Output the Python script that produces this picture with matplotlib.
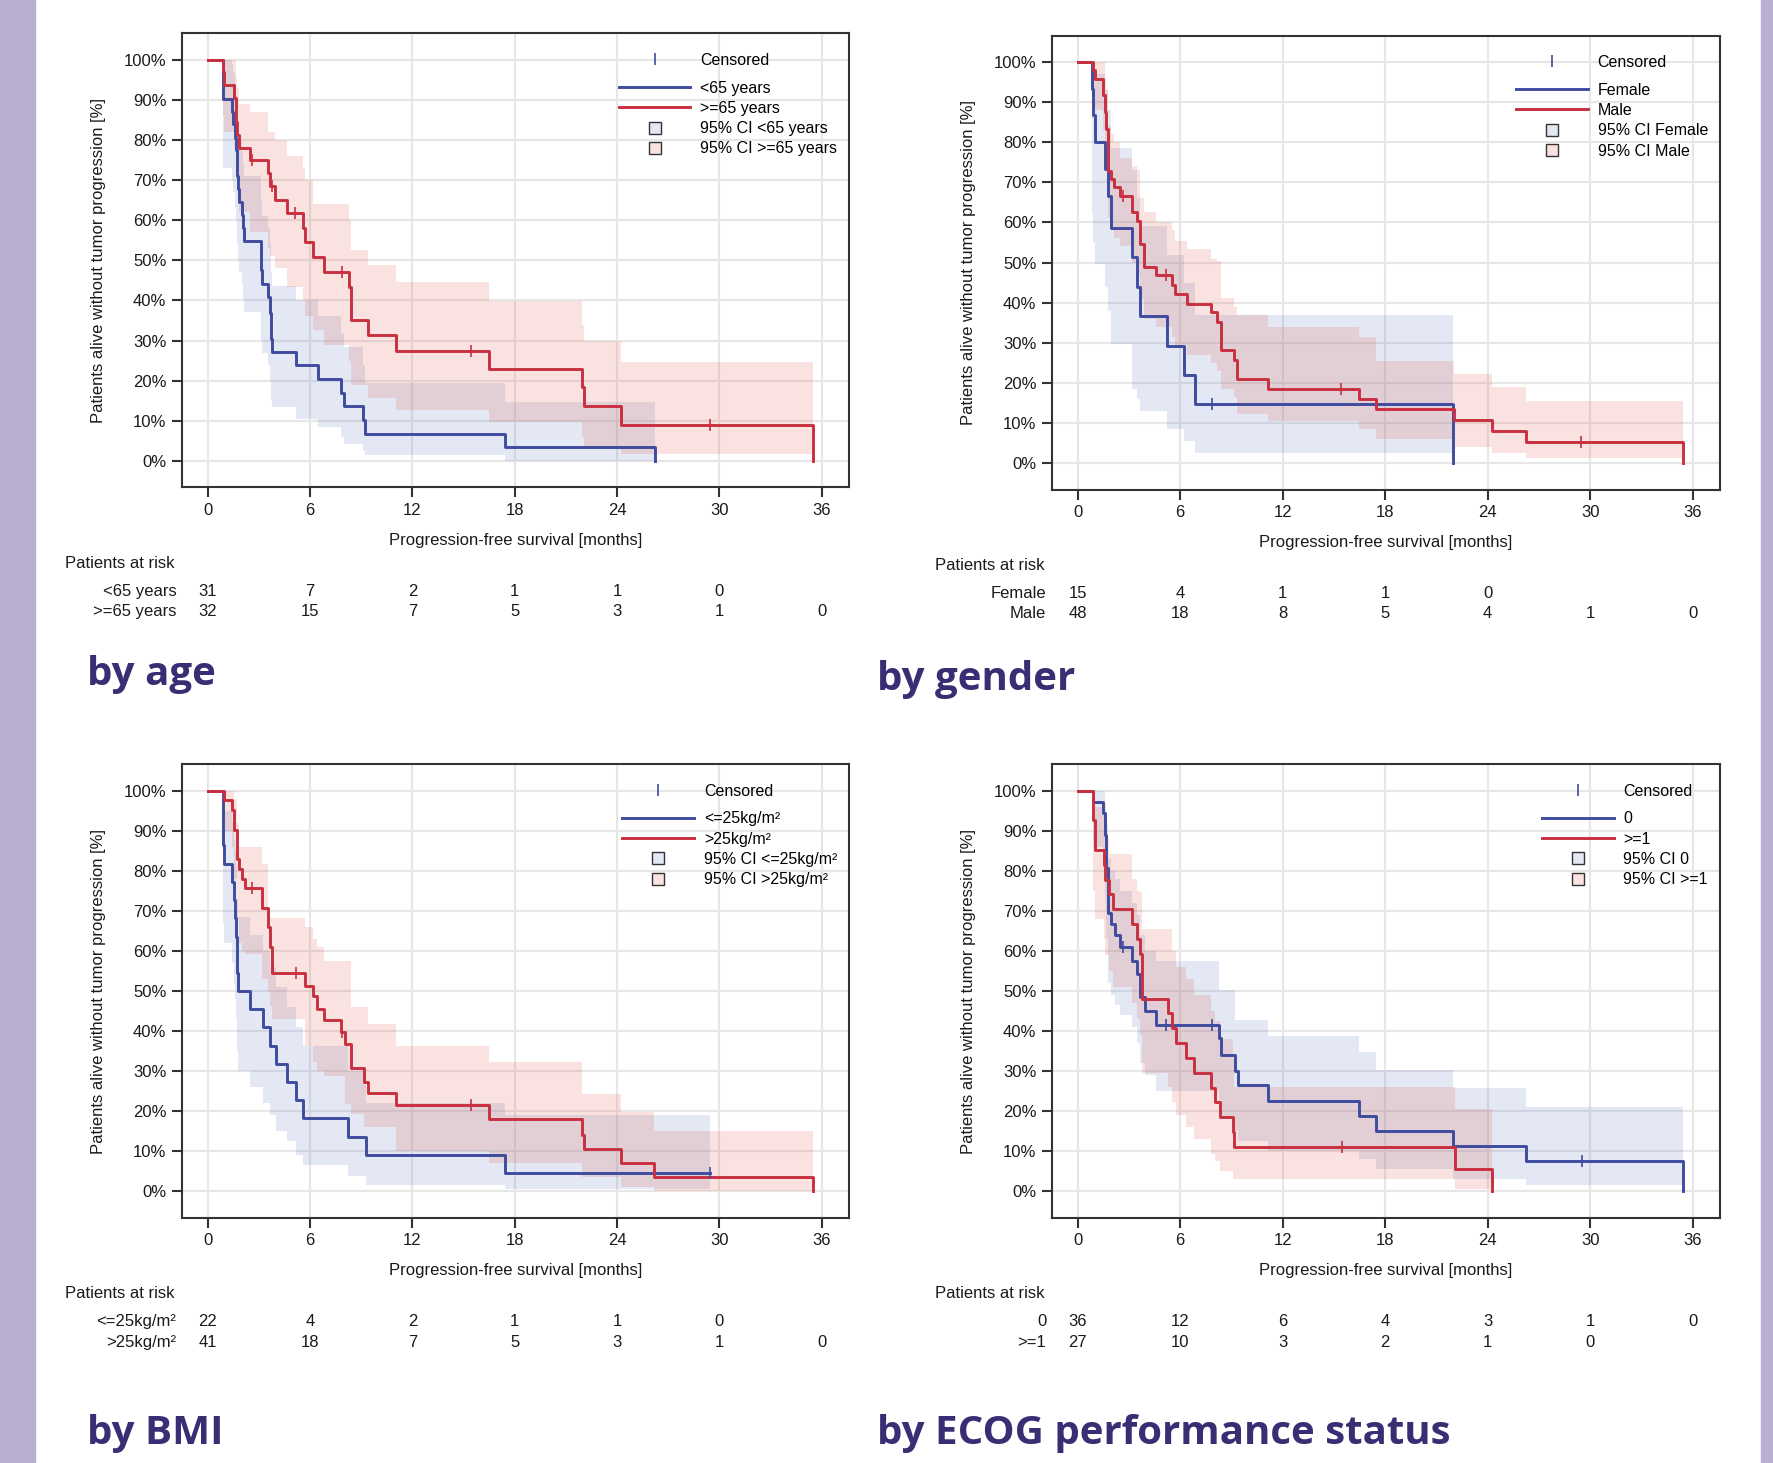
import numpy as np
import matplotlib
matplotlib.use('Agg')
import matplotlib.pyplot as plt
import matplotlib.transforms as mtransforms
from matplotlib.lines import Line2D
from matplotlib.patches import Rectangle

plt.rcParams['font.family'] = ['Liberation Sans', 'DejaVu Sans']
plt.rcParams['font.size'] = 12

# ---- by age ----
age1_t = [0, 0.9, 1.45, 1.5, 1.6, 1.65, 1.7, 1.75, 1.85, 2.0, 2.1, 2.15, 3.15, 3.2, 3.55, 3.65, 3.7, 3.75, 5.2, 6.45, 7.8, 8.0, 9.1, 9.25, 17.45, 26.2]
age1_s = [100, 90.3, 87.1, 83.9, 80.6, 77.4, 71.0, 67.7, 64.5, 61.3, 58.1, 54.8, 47.7, 44.0, 40.8, 36.9, 30.5, 27.2, 23.8, 20.4, 17.0, 13.6, 10.2, 6.8, 3.4, 0]
age1_lo = [100, 73, 70, 67, 63, 60, 54, 50, 47, 44, 40, 37, 30, 27, 24, 20, 15, 13.5, 10.5, 8.5, 6, 4.3, 2.5, 1.4, 0, 0]
age1_hi = [100, 100, 99, 97, 94, 91, 85, 83, 80, 77, 74, 71, 65, 61, 58, 54, 47, 43.5, 40, 36, 32, 28.5, 24, 19.3, 14.7, 14.7]
age1_cens = []

age2_t = [0, 0.9, 0.96, 1.57, 1.65, 1.73, 1.83, 2.49, 3.55, 3.63, 3.93, 4.64, 5.58, 5.71, 6.17, 6.8, 8.3, 8.38, 9.39, 11.04, 16.5, 21.95, 22.08, 24.24, 35.46]
age2_s = [100, 96.9, 93.8, 90.6, 84.4, 81.3, 78.1, 75.0, 71.8, 68.6, 65.1, 61.7, 58.0, 54.5, 50.9, 47.2, 43.4, 35.1, 31.4, 27.4, 22.8, 18.5, 13.6, 8.9, 0]
age2_lo = [100, 86, 82, 78, 72, 68, 62, 57, 53, 51, 48, 43.4, 40, 36, 32.6, 29, 25, 19, 15.6, 12.6, 9.7, 6, 3.5, 1.7, 1.7]
age2_hi = [100, 100, 100, 100, 96, 93, 89, 87, 82, 82, 80, 76, 73, 70, 64, 64, 60, 52.6, 48.8, 44.7, 39.9, 34, 30, 24.7, 24.7]
age2_cens = [2.6, 3.75, 5.13, 7.87, 15.43, 29.44]

age_groups = ['<65 years', '>=65 years']
age_risk1 = [31, 7, 2, 1, 1, 0]
age_risk2 = [32, 15, 7, 5, 3, 1, 0]

# ---- by gender ----
sex1_t = [0, 0.84, 0.91, 1.02, 1.6, 1.78, 1.93, 3.2, 3.5, 3.63, 5.23, 6.25, 6.88, 21.98]
sex1_s = [100, 93.3, 86.7, 80.0, 73.3, 66.7, 58.7, 51.3, 44.0, 36.7, 29.3, 22.0, 14.7, 0]
sex1_lo = [100, 62, 55, 49.6, 44, 38, 29.6, 18.4, 16, 13, 8.6, 5.6, 2.5, 2.5]
sex1_hi = [100, 100, 100, 97, 93, 88, 78.5, 73, 66, 59, 52, 45, 37, 37]
sex1_cens = [7.87]

sex2_t = [0, 0.91, 1.02, 1.47, 1.6, 1.68, 1.78, 1.93, 2.11, 2.49, 3.2, 3.5, 3.63, 3.88, 4.6, 5.53, 5.71, 6.42, 7.82, 8.15, 8.4, 9.16, 9.34, 11.12, 16.45, 17.47, 22.04, 24.24, 26.22, 35.44]
sex2_s = [100, 97.9, 95.8, 91.7, 87.5, 83.3, 72.9, 70.8, 68.8, 66.7, 62.5, 60.4, 54.7, 48.9, 46.8, 44.3, 42.2, 39.7, 37.7, 35.2, 28.1, 25.6, 21.0, 18.5, 16.0, 13.5, 10.8, 8.1, 5.2, 0]
sex2_lo = [100, 90, 88, 83, 78, 73, 61, 58, 56, 54, 50, 47, 41, 36, 34, 31.5, 29.5, 27, 25, 23, 18.5, 16.5, 12.2, 10.5, 8.5, 6, 4, 2.5, 1.3, 1.3]
sex2_hi = [100, 100, 100, 100, 96, 93, 84, 82, 80, 76, 74, 73, 66, 62.5, 60, 58, 55.4, 53.3, 51, 50.4, 41.2, 39, 36.9, 33.9, 31.4, 25.4, 22.3, 19, 15.5, 15.5]
sex2_cens = [2.67, 5.2, 15.43, 29.47]

sex_groups = ['Female', 'Male']
sex_risk1 = [15, 4, 1, 1, 0]
sex_risk2 = [48, 18, 8, 5, 4, 1, 0]

# ---- by BMI ----
bmi1_t = [0, 0.89, 0.96, 1.45, 1.57, 1.62, 1.65, 1.7, 1.78, 2.46, 3.22, 3.63, 3.98, 4.64, 5.2, 5.58, 8.25, 9.26, 17.44, 29.44]
bmi1_s = [100, 86.4, 81.8, 77.3, 72.7, 68.2, 63.6, 54.5, 50.0, 45.5, 40.9, 36.4, 31.8, 27.3, 22.7, 18.2, 13.6, 9.1, 4.5, 4.5]
bmi1_lo = [100, 67, 62, 57, 52, 48, 43, 35, 30, 26, 22, 19, 15, 12.5, 9, 6.5, 3.8, 1.7, 0.5, 0.5]
bmi1_hi = [100, 98, 95, 92, 88, 85, 81, 73, 68.4, 64, 60, 56, 51, 46, 41, 36.4, 30, 22, 19, 19]
bmi1_cens = [29.44]

bmi2_t = [0, 0.96, 1.45, 1.57, 1.73, 1.83, 2.03, 2.21, 3.17, 3.55, 3.68, 3.76, 5.71, 6.17, 6.42, 6.8, 7.79, 8.05, 8.38, 9.14, 9.39, 11.04, 16.5, 21.95, 22.08, 24.24, 26.19, 35.46]
bmi2_s = [100, 97.6, 95.1, 90.2, 82.9, 80.5, 78.0, 75.6, 70.7, 65.9, 61.0, 54.5, 51.2, 48.7, 45.5, 42.8, 39.7, 36.8, 30.8, 27.4, 24.5, 21.5, 18.1, 14.1, 10.6, 7.0, 3.5, 0]
bmi2_lo = [100, 90, 86, 78, 68, 62, 60, 59.2, 53, 50, 46.3, 43, 36.4, 32.2, 30, 28.9, 28.9, 21.8, 19.3, 16, 16, 10.1, 7.2, 3.5, 3.5, 1.2, 0, 0]
bmi2_hi = [100, 100, 100, 98, 92, 86, 86, 86, 81.7, 68.2, 68.2, 68.2, 65.9, 63, 61, 57.6, 57.6, 57.6, 45.9, 45.9, 41.8, 36.4, 32.4, 24.3, 24.3, 19.7, 15.1, 15.1]
bmi2_cens = [2.6, 5.15, 7.9, 15.43]

bmi_groups = ['<=25kg/m²', '>25kg/m²']
bmi_risk1 = [22, 4, 2, 1, 1, 0]
bmi_risk2 = [41, 18, 7, 5, 3, 1, 0]

# ---- by ECOG ----
ecog1_t = [0, 0.91, 1.47, 1.6, 1.68, 1.78, 1.93, 2.18, 2.49, 3.2, 3.5, 3.68, 3.93, 4.6, 8.27, 8.4, 9.21, 9.39, 11.12, 16.45, 17.46, 21.98, 26.22, 35.43]
ecog1_s = [100, 97.2, 94.4, 88.9, 80.6, 69.4, 66.7, 63.9, 61.1, 57.6, 54.2, 48.4, 45.1, 41.6, 38.4, 34.0, 30.1, 26.6, 22.6, 18.9, 15.1, 11.4, 7.5, 0]
ecog1_lo = [100, 86, 82, 72, 63, 52, 49, 46.5, 44, 41, 37, 32, 29, 25, 22, 18.5, 15, 12.6, 10, 8, 5.5, 3, 1.5, 1.5]
ecog1_hi = [100, 100, 100, 97, 92, 83, 80, 78, 75, 72, 69, 64, 60, 57.4, 50.2, 50.2, 42.8, 42.8, 38.8, 34.9, 30.4, 25.8, 21.1, 21.1]
ecog1_cens = [2.67, 5.15, 7.87, 29.5]

ecog2_t = [0, 0.91, 1.02, 1.52, 1.6, 1.85, 2.06, 3.2, 3.5, 3.63, 3.76, 5.28, 5.53, 5.79, 6.37, 6.8, 7.82, 8.07, 8.32, 9.09, 9.16, 22.08, 24.26]
ecog2_s = [100, 92.6, 85.2, 81.5, 77.8, 74.1, 70.4, 66.7, 63.0, 59.3, 48.1, 44.4, 40.7, 37.0, 33.3, 29.6, 25.9, 22.2, 18.5, 14.8, 11.1, 5.6, 0]
ecog2_lo = [100, 75, 68, 63, 59, 55, 51, 47, 43, 39, 29.5, 26, 22.2, 19, 16, 13, 9.3, 7.5, 5, 3, 3, 0.7, 0.7]
ecog2_hi = [100, 100, 96, 93, 88, 84.2, 84.2, 78, 75, 74.6, 65.5, 65.5, 60, 56, 53, 49, 45, 42.6, 38, 33, 26, 20.5, 20.5]
ecog2_cens = [15.46]

ecog_groups = ['0', '>=1']
ecog_risk1 = [36, 12, 6, 4, 3, 1, 0]
ecog_risk2 = [27, 10, 3, 2, 1, 0]

risk_times = [0, 6, 12, 18, 24, 30, 36]
titles = ['by age', 'by gender', 'by BMI', 'by ECOG performance status']

BLUE = '#3e4b9e'
RED = '#c83040'
BLUE_FILL = '#738cc8'
RED_FILL = '#e16e5f'
BLUE_SQ = '#e3e8f4'
RED_SQ = '#f9e2df'
TITLE = '#3b2d73'
STRIPE = '#b9afd1'
DARK = '#333333'


def draw_panel(ax, curves, groups, risks, fig):
    # confidence bands first, then the curves on top
    for (t, s, lo, hi, cens), fc in zip(curves, [BLUE_FILL, RED_FILL]):
        ax.fill_between(t, lo, hi, step='post', color=fc, alpha=0.2, lw=0, zorder=2)
    for (t, s, lo, hi, cens), lc in zip(curves, [BLUE, RED]):
        ax.step(t, s, where='post', color=lc, lw=2.1, zorder=3)
        if cens:
            idx = np.searchsorted(np.asarray(t), cens, side='right') - 1
            ax.plot(cens, np.asarray(s)[idx], ls='none', marker='|', ms=8,
                    mew=1.2, color=lc, zorder=4)

    ax.set_xlim(-1.52, 37.6)
    ax.set_ylim(-6.6, 106.6)
    ax.set_xticks(risk_times)
    ax.set_yticks(range(0, 101, 10))
    ax.set_yticklabels(['%d%%' % v for v in range(0, 101, 10)])
    ax.grid(True, color='#e6e6e6', lw=1.5)
    ax.set_axisbelow(True)
    ax.tick_params(direction='out', length=7, width=1.5, color=DARK,
                   labelcolor='#1a1a1a', labelsize=12, pad=4)
    for sp in ax.spines.values():
        sp.set_color(DARK)
        sp.set_linewidth(1.5)

    ax.set_xlabel('Progression-free survival [months]', fontsize=12, color='#1a1a1a')
    ax.xaxis.set_label_coords(0.5, -0.117)
    ax.xaxis.label.set_va('center')
    ax.set_ylabel('Patients alive without tumor progression [%]', fontsize=12, color='#1a1a1a')
    ax.yaxis.set_label_coords(-0.124, 0.5)
    ax.yaxis.label.set_va('center')

    # legend
    h_lines = [Line2D([], [], color=BLUE, lw=2.1), Line2D([], [], color=RED, lw=2.1),
               Line2D([], [], ls='none', marker='s', ms=9, mfc=BLUE_SQ, mec=DARK, mew=1),
               Line2D([], [], ls='none', marker='s', ms=9, mfc=RED_SQ, mec=DARK, mew=1)]
    labels = [groups[0], groups[1], '95% CI ' + groups[0], '95% CI ' + groups[1]]
    common = dict(frameon=False, handlelength=4.5, handletextpad=0.6, labelspacing=0.33,
                  borderpad=0, borderaxespad=0, fontsize=11.5)
    leg2 = ax.legend(h_lines, labels, loc='upper right', bbox_to_anchor=(0.982, 0.896), **common)
    fig.canvas.draw()
    bb = leg2.get_window_extent().transformed(ax.transAxes.inverted())
    h_c = Line2D([], [], ls='none', marker='|', ms=9, mew=1.2, color=BLUE)
    ax.legend([h_c], ['Censored'], loc='upper left', bbox_to_anchor=(bb.x0, 0.957), **common)
    ax.add_artist(leg2)

    # patients at risk table
    tr = mtransforms.blended_transform_factory(ax.transData, ax.transAxes)
    ax.text(-0.175, -0.167, 'Patients at risk', transform=ax.transAxes, ha='left',
            va='center', fontsize=12, color='#1a1a1a')
    for row_y, name, vals in zip([-0.229, -0.274], groups, risks):
        ax.text(-0.008, row_y, name, transform=ax.transAxes, ha='right', va='center',
                fontsize=12, color='#1a1a1a')
        for tt, v in zip(risk_times, vals):
            ax.text(tt, row_y, str(v), transform=tr, ha='center', va='center',
                    fontsize=12, color='#1a1a1a', clip_on=False)


fig = plt.figure(figsize=(17.73, 14.63), dpi=100)
fig.patches.append(Rectangle((0, 0), 35 / 1773, 1, transform=fig.transFigure,
                             color=STRIPE, zorder=0))
fig.patches.append(Rectangle((1761 / 1773, 0), 12 / 1773, 1, transform=fig.transFigure,
                             color=STRIPE, zorder=0))

rects = [[0.1025, 0.6669, 0.3764, 0.3103],
         [0.5931, 0.6654, 0.3770, 0.3103],
         [0.1025, 0.1676, 0.3764, 0.3100],
         [0.5931, 0.1676, 0.3770, 0.3100]]

panels = [
    ([(age1_t, age1_s, age1_lo, age1_hi, age1_cens), (age2_t, age2_s, age2_lo, age2_hi, age2_cens)],
     age_groups, [age_risk1, age_risk2]),
    ([(sex1_t, sex1_s, sex1_lo, sex1_hi, sex1_cens), (sex2_t, sex2_s, sex2_lo, sex2_hi, sex2_cens)],
     sex_groups, [sex_risk1, sex_risk2]),
    ([(bmi1_t, bmi1_s, bmi1_lo, bmi1_hi, bmi1_cens), (bmi2_t, bmi2_s, bmi2_lo, bmi2_hi, bmi2_cens)],
     bmi_groups, [bmi_risk1, bmi_risk2]),
    ([(ecog1_t, ecog1_s, ecog1_lo, ecog1_hi, ecog1_cens), (ecog2_t, ecog2_s, ecog2_lo, ecog2_hi, ecog2_cens)],
     ecog_groups, [ecog_risk1, ecog_risk2]),
]

for rect, (curves, groups, risks) in zip(rects, panels):
    ax = fig.add_axes(rect)
    draw_panel(ax, curves, groups, risks, fig)

title_pos = [(0.049, 0.5318), (0.4946, 0.5284), (0.049, 0.013), (0.4946, 0.013)]
for (x, y), txt in zip(title_pos, titles):
    fig.text(x, y, txt, fontsize=29, fontweight='bold', color=TITLE, va='baseline',
             family=['Open Sans', 'DejaVu Sans'])

fig.savefig('out.png', dpi=100)
